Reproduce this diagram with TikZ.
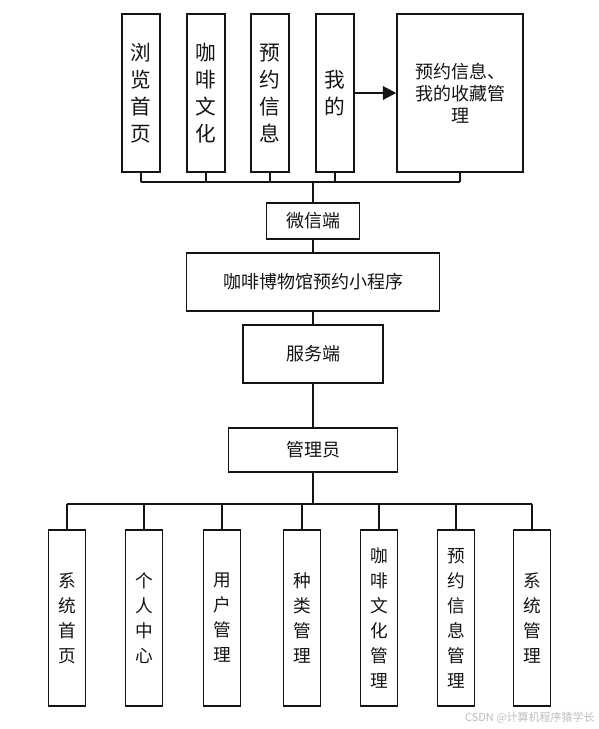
\documentclass[tikz,border=0pt]{standalone}
\usepackage{fontspec}
\setmainfont{Noto Sans CJK SC}
\usetikzlibrary{arrows.meta,positioning}
\definecolor{ink}{HTML}{141414}
\definecolor{mark}{HTML}{BDBDBD}
\tikzset{
  box/.style={draw=ink,line width=1.1pt,fill=white,align=center,inner sep=0pt,text=ink},
  colbox/.style={box,minimum width=28.5pt,minimum height=118.5pt,font=\fontsize{15.5pt}{20.25pt}\selectfont},
  lowbox/.style={box,minimum width=27.75pt,minimum height=132pt,font=\fontsize{13.25pt}{18.75pt}\selectfont},
  midbox/.style={box,font=\fontsize{13.5pt}{16pt}\selectfont},
  wire/.style={draw=ink,line width=1.1pt},
  arrowline/.style={-{Triangle[length=10pt,width=10pt]},line width=1.6pt,draw=ink}
}
\begin{document}
\begin{tikzpicture}[x=0.75pt,y=-0.75pt]
    \useasboundingbox (0,0) rectangle (599,729);
    \fill[white] (0,0) rectangle (599,729);

    % client side
    \foreach \i/\x/\t in {1/141/浏\\览\\首\\页,2/206/咖\\啡\\文\\化,3/270/预\\约\\信\\息,4/335/我\\的} {
      \node[colbox] (top\i) at (\x,93) {\t};
    }
    \node[box,minimum width=94.5pt,minimum height=118.5pt,font=\fontsize{13.5pt}{16.5pt}\selectfont] (fav) at (460,93) {预约信息、\\我的收藏管\\理};
    \draw[arrowline] (top4.east) -- (fav.west);

    \node[midbox,minimum width=69.75pt,minimum height=27pt] (wx) at (313,221) {微信端};
    \node[midbox,minimum width=189.75pt,minimum height=43.5pt] (app) at (313,282) {咖啡博物馆预约小程序};
    \node[midbox,minimum width=105pt,minimum height=43.5pt] (srv) at (313,354) {服务端};
    \node[midbox,minimum width=126.75pt,minimum height=33pt] (admin) at (313,450) {管理员};

    \coordinate (tbus) at (313,182);
    \foreach \i in {1,...,4} {
      \draw[wire] (top\i.south) -- (top\i.south |- tbus);
    }
    \draw[wire] (fav.south) -- (fav.south |- tbus);
    \draw[wire] (top1.south |- tbus) -- (fav.south |- tbus);
    \draw[wire,line width=1.6pt] (tbus) -- (wx.north);
    \draw[wire] (wx.south) -- (app.north);
    \draw[wire] (app.south) -- (srv.north);
    \draw[wire] (srv.south) -- (admin.north);

    % admin side
    \foreach \i/\x/\t in {1/67/系\\统\\首\\页,2/144/个\\人\\中\\心,3/222/用\\户\\管\\理,4/302/种\\类\\管\\理,5/379/咖\\啡\\文\\化\\管\\理,6/456/预\\约\\信\\息\\管\\理,7/532/系\\统\\管\\理} {
      \node[lowbox] (low\i) at (\x,618) {\t};
    }
    \coordinate (bbus) at (313,504);
    \draw[wire] (admin.south) -- (bbus);
    \foreach \i in {1,...,7} {
      \draw[wire] (low\i.north) -- (low\i.north |- bbus);
    }
    \draw[wire] (low1.north |- bbus) -- (low7.north |- bbus);

    \node[anchor=east,font=\fontsize{8.25pt}{10pt}\selectfont,text=mark,inner sep=0pt] (tag) at (595,718) {CSDN @计算机程序猿学长};
\end{tikzpicture}
\end{document}
